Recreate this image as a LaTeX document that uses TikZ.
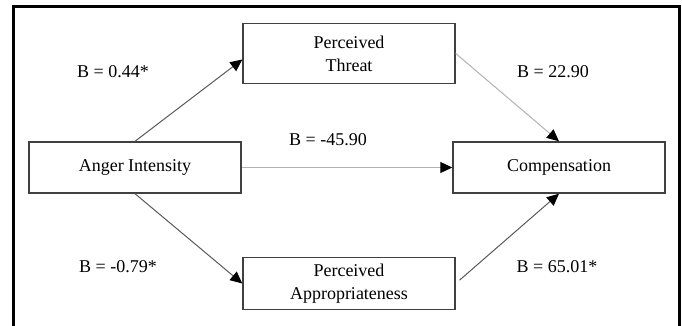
\documentclass[tikz,border=0pt]{standalone}
\usepackage{fontspec}
\setmainfont{Liberation Serif}
\usetikzlibrary{positioning,arrows.meta}

\begin{document}
\begin{tikzpicture}[x=0.5pt,y=-0.5pt,>={Triangle[length=6pt,width=5.5pt,color=black]},
    node distance=212pt,on grid,
    var node/.style={rectangle,draw=black!75,line width=0.7pt,minimum width=106pt,
        minimum height=25.5pt,inner sep=0pt,align=center,font=\fontsize{9}{11.5}\selectfont},
    coef/.style={font=\fontsize{9}{11}\selectfont},
    dark path/.style={->,draw=black!65,line width=0.5pt},
    light path/.style={->,draw=black!30,line width=0.5pt}]

\useasboundingbox (0,0) rectangle (682,326);
\draw[line width=1.5pt] (13,326) -- (13,6.5) -- (679,6.5) -- (679,326);

\node[var node] (anger) at (135,167.5) {Anger Intensity};
\node[var node] (comp) [right=of anger] {Compensation};
\node[var node,minimum height=30pt] (threat) [above right=57pt and 107pt of anger] {Perceived\\Threat};
\node[var node,minimum height=26pt] (approp) [below right=58pt and 107pt of anger] {Perceived\\Appropriateness};

\node[coef] (b1) at (113,72) {B = 0.44*};
\node[coef] (b2) at (553,72) {B = 22.90};
\node[coef] (b3) at (328,140) {B = -45.90};
\node[coef] (b4) at (118,267) {B = -0.79*};
\node[coef] (b5) at (557,267) {B = 65.01*};

\draw[dark path] (anger.north) -- ([yshift=-3pt]threat.west);
\draw[light path] (threat.east) -- (comp.north);
\draw[light path] (anger.east) -- (comp.west);
\draw[dark path] (anger.south) -- (approp.west);
\draw[dark path,shorten <=2.5pt] (approp.east) -- (comp.south);

\end{tikzpicture}
\end{document}
